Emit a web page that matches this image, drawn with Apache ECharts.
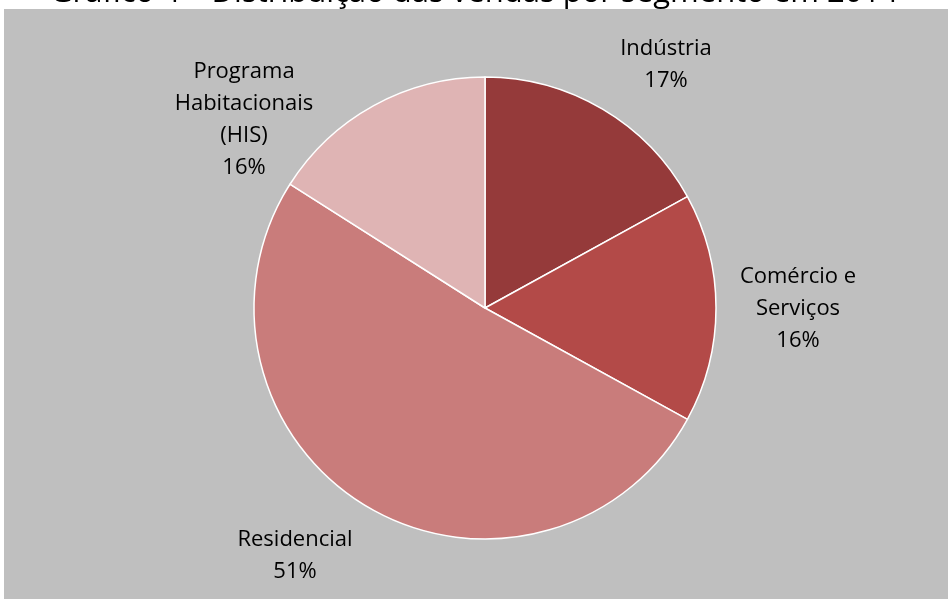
<!DOCTYPE html>
<html>
<head>
<meta charset="utf-8">
<script src="https://cdn.jsdelivr.net/npm/echarts@6/dist/echarts.min.js"></script>
<style>
  html, body { margin: 0; padding: 0; background: #fff; }
  #chart { width: 948px; height: 599px; }
</style>
</head>
<body>
<div id="chart"></div>
<script>
// segment names and shares (%)
const segments = ['Indústria', 'Comércio e\nServiços', 'Residencial', 'Programa\nHabitacionais\n(HIS)']
const shares = [17, 16, 51, 16]
const colors = ['#953a3a', '#b34a48', '#c97c7b', '#dfb4b4']

// label centres (px), like the spreadsheet placed them
const labelPos = [[666, 65], [798, 309], [295, 556], [244, 120]]

const chart = echarts.init(document.getElementById('chart'))

const option = {
  backgroundColor: '#ffffff',
  animation: false,
  title: {
    text: 'Gráfico 4 – Distribuição das vendas por segmento em 2014',
    left: 'center',
    top: -27,
    textStyle: {
      fontFamily: 'Open Sans',
      fontSize: 31,
      fontWeight: 'normal',
      color: '#000'
    }
  },
  graphic: [{
    type: 'rect',
    z: -10,
    shape: { x: 4, y: 9, width: 944, height: 590 },
    style: { fill: '#bfbfbf' }
  }],
  series: [{
    type: 'pie',
    center: [485, 308],
    radius: 231,
    startAngle: 90,
    clockwise: true,
    data: segments.map((name, i) => ({
      name: name,
      value: shares[i],
      itemStyle: { color: colors[i] }
    })),
    itemStyle: { borderColor: '#fff', borderWidth: 1.5 },
    label: {
      show: true,
      position: 'outside',
      formatter: '{b}\n{d}%',
      fontFamily: 'Open Sans',
      fontSize: 22,
      lineHeight: 32,
      color: '#000',
      align: 'center'
    },
    labelLine: { show: false },
    labelLayout: function (params) {
      const p = labelPos[params.dataIndex]
      return { x: p[0], y: p[1], align: 'center', verticalAlign: 'middle' }
    },
    emphasis: { disabled: true }
  }]
}

chart.setOption(option)
</script>
</body>
</html>
